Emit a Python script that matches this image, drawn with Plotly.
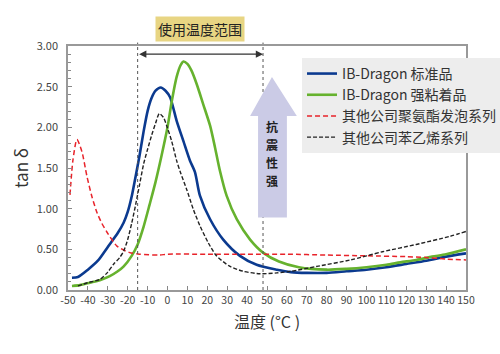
import plotly.graph_objects as go

# ---- data ----
blue_x = [-48,-45,-40,-35,-30,-25,-22,-20,-18,-16,-14,-12,-10,-8,-6,-3.4,-1,1.3,4.6,8,11.3,13.8,16.3,21.4,28,36.4,44.8,55,62,70,80,90,100,110,120,130,140,150]
blue_y = [0.15,0.16,0.25,0.36,0.53,0.70,0.83,0.96,1.15,1.40,1.66,1.95,2.20,2.36,2.45,2.49,2.45,2.37,2.08,1.83,1.59,1.45,1.16,0.87,0.62,0.42,0.31,0.25,0.22,0.21,0.21,0.23,0.25,0.28,0.32,0.36,0.41,0.45]

green_x = [-48,-44,-39,-34,-29,-25,-22,-18,-15,-12,-9,-6,-3,0,2,4.6,6.5,8,10,12,14.7,18,21.4,23.9,26.4,29.7,34.8,41.5,48,56,66,80,90,100,110,117,125,133,140,150]
green_y = [0.05,0.06,0.09,0.12,0.17,0.23,0.29,0.42,0.56,0.78,1.05,1.33,1.65,2.00,2.30,2.62,2.76,2.81,2.78,2.70,2.53,2.28,2.02,1.75,1.46,1.16,0.87,0.62,0.46,0.35,0.28,0.25,0.26,0.28,0.31,0.34,0.37,0.41,0.44,0.50]

red_x = [-49,-47.5,-45.5,-43,-40.5,-38,-35.4,-33,-30.4,-25.4,-19,-14,-4,0,20,40,60,80,100,120,130,140,150]
red_y = [1.17,1.60,1.85,1.70,1.40,1.15,0.95,0.82,0.71,0.54,0.46,0.44,0.43,0.44,0.44,0.44,0.44,0.43,0.42,0.41,0.40,0.38,0.37]

black_x = [-45,-40,-34,-30,-27,-24,-22,-20,-18,-16,-14,-12,-10,-8,-6,-4.1,-2,-0.4,2.1,4.6,6.3,9.6,13,16.3,20.5,24.6,31.4,38.1,46.5,55,62,75,92,108,125,142,150]
black_y = [0.05,0.09,0.13,0.22,0.32,0.40,0.48,0.62,0.82,1.05,1.30,1.55,1.73,1.90,2.05,2.17,2.12,2.02,1.83,1.59,1.46,1.24,0.99,0.79,0.58,0.42,0.29,0.23,0.20,0.21,0.23,0.29,0.37,0.47,0.56,0.66,0.72]

names = ["IB-Dragon 标准品", "IB-Dragon 强粘着品", "其他公司聚氨酯发泡系列", "其他公司苯乙烯系列"]
x_ticks = list(range(-50, 151, 10))
y_ticks = [0, 0.5, 1.0, 1.5, 2.0, 2.5, 3.0]
range_lo, range_hi = -15, 48
vert_chars = ["抗", "震", "性", "强"]
vert_y = [2.013, 1.792, 1.570, 1.349]

FONT = "Noto Sans CJK SC"

fig = go.Figure()
fig.add_trace(go.Scatter(x=blue_x, y=blue_y, name=names[0], mode="lines",
                         line=dict(color="#0b3a8f", width=2.6, shape="spline", smoothing=0.7)))
fig.add_trace(go.Scatter(x=green_x, y=green_y, name=names[1], mode="lines",
                         line=dict(color="#66b22e", width=2.6, shape="spline", smoothing=0.7)))
fig.add_trace(go.Scatter(x=red_x, y=red_y, name=names[2], mode="lines",
                         line=dict(color="#e8232a", width=1.5, dash="5px,3px", shape="spline", smoothing=0.7)))
fig.add_trace(go.Scatter(x=black_x, y=black_y, name=names[3], mode="lines",
                         line=dict(color="#222222", width=1.4, dash="4px,2px", shape="spline", smoothing=0.7)))

shapes = []
for xv in (range_lo, range_hi):
    shapes.append(dict(type="line", xref="x", yref="paper", x0=xv, x1=xv, y0=0, y1=1.014,
                       line=dict(color="#555", width=1, dash="dot"), layer="above"))
shapes.append(dict(type="path", xref="x", yref="y", layer="above",
                   path="M 45.5 0.89 L 45.5 2.14 L 41.5 2.14 L 52.5 2.62 L 65 2.14 L 60 2.14 L 60 0.89 Z",
                   fillcolor="#cbcbe6", line=dict(width=0)))

annotations = [
    dict(x=range_hi, y=2.90, ax=range_lo, ay=2.90, xref="x", yref="y", axref="x", ayref="y",
         text="", showarrow=True, arrowside="end+start", arrowhead=2, arrowsize=1.2,
         arrowwidth=1.2, arrowcolor="#333"),
    dict(x=0.332, y=1.07, xref="paper", yref="paper", text="使用温度范围", showarrow=False,
         font=dict(family=FONT, size=14, color="#222"), bgcolor="#e8d583",
         borderpad=2, xanchor="center", yanchor="middle"),
]
for ch, yv in zip(vert_chars, vert_y):
    annotations.append(dict(x=52.5, y=yv, xref="x", yref="y", text=ch, showarrow=False,
                            font=dict(family=FONT, size=12, color="#222", weight="bold"),
                            xanchor="center", yanchor="middle"))

fig.update_layout(
    width=500, height=354,
    margin=dict(l=68, r=34, t=46, b=64, autoexpand=False),
    paper_bgcolor="white", plot_bgcolor="white",
    font=dict(family=FONT, color="#333"),
    shapes=shapes, annotations=annotations,
    legend=dict(x=0.588, y=0.951, xanchor="left", yanchor="top", bgcolor="#ededed",
                font=dict(family=FONT, size=14, color="#333"), tracegroupgap=0,
                itemwidth=30, borderwidth=0),
    xaxis=dict(range=[-50, 150], tickvals=x_ticks, ticktext=[str(v) for v in x_ticks],
               tickangle=0, automargin=False,
               showline=True, mirror=True, linecolor="#999", linewidth=1.5,
               ticks="inside", ticklen=4, tickcolor="#888", showgrid=False, zeroline=False,
               tickfont=dict(family=FONT, size=10.5, color="#444"),
               title=dict(text="温度 (°C )", font=dict(family=FONT, size=16, color="#333"), standoff=10)),
    yaxis=dict(range=[0, 3.0], tickvals=y_ticks, tickformat=".2f", automargin=False,
               showline=True, mirror=True, linecolor="#999", linewidth=1.5,
               ticks="inside", ticklen=4, tickcolor="#888", showgrid=False, zeroline=False,
               minor=dict(dtick=0.1, ticks="inside", ticklen=3, tickcolor="#888", showgrid=False),
               tickfont=dict(family=FONT, size=11, color="#444"), ticklabelstandoff=6,
               title=dict(text="tan δ", font=dict(family=FONT, size=17, color="#333"), standoff=4)),
)

fig.write_html("out.html")
